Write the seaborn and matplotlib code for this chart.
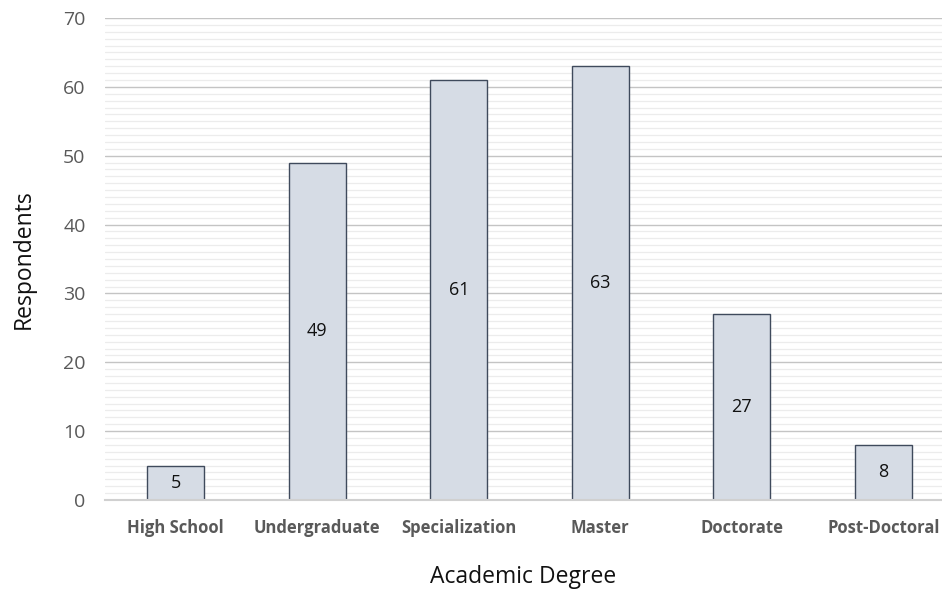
import matplotlib
matplotlib.use("Agg")
import matplotlib.pyplot as plt
import seaborn as sns
import pandas as pd
from matplotlib.ticker import MultipleLocator

# =====================================================
# Data
# =====================================================

degrees = [
    "High School",
    "Undergraduate",
    "Specialization",
    "Master",
    "Doctorate",
    "Post-Doctoral"
]

respondents = [5, 49, 61, 63, 27, 8]

df = pd.DataFrame({"Degree": degrees, "Respondents": respondents})

# =====================================================
# Plot
# =====================================================

sns.set_theme(style="white")
plt.rcParams["font.family"] = ["Open Sans", "DejaVu Sans"]

fig = plt.figure(figsize=(9.42, 5.97), dpi=100)
ax = fig.add_axes([105 / 942, 97 / 597, 837 / 942, 482 / 597])

sns.barplot(
    data=df,
    x="Degree",
    y="Respondents",
    color="#d6dce5",
    edgecolor="#3f4a5c",
    linewidth=1.0,
    width=0.4,
    saturation=1,
    ax=ax
)

# value labels in the middle of each bar
for container in ax.containers:
    for bar, val in zip(container, respondents):
        ax.text(
            bar.get_x() + bar.get_width() / 2,
            val / 2,
            f"{val}",
            ha="center",
            va="center",
            fontsize=13,
            color="#111111"
        )

ax.set_ylim(0, 70)
ax.set_xlim(-0.5, 5.415)
ax.yaxis.set_major_locator(MultipleLocator(10))
ax.yaxis.set_minor_locator(MultipleLocator(1))

ax.grid(axis="y", which="major", color="#c4c4c4", linewidth=1.0)
ax.grid(axis="y", which="minor", color="#ececec", linewidth=0.9)
ax.set_axisbelow(True)

for side in ["top", "right", "left"]:
    ax.spines[side].set_visible(False)
ax.spines["bottom"].set_color("#d0d0d0")
ax.spines["bottom"].set_linewidth(1.5)

ax.tick_params(axis="y", which="both", length=0, pad=14, labelsize=14, labelcolor="#595959")
ax.tick_params(axis="x", length=0, pad=14, labelsize=12, labelcolor="#595959")
for lab in ax.get_xticklabels():
    lab.set_fontweight("bold")

ax.set_xlabel("Academic Degree", fontsize=16.5, color="#111111", labelpad=20)
ax.set_ylabel("Respondents", fontsize=16.5, color="#111111", labelpad=20)

plt.savefig("out.png", dpi=100)
plt.close()
